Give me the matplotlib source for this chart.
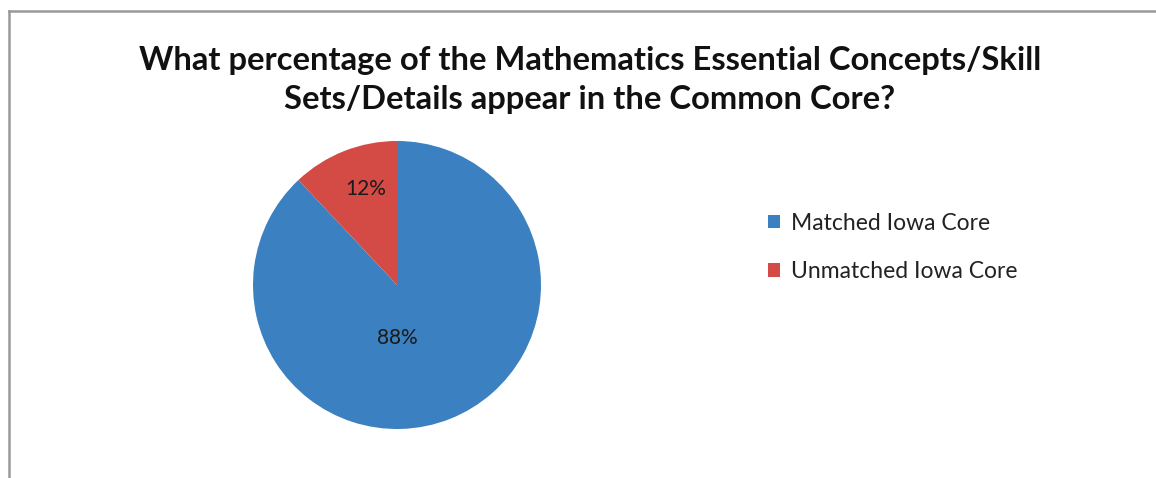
import matplotlib
matplotlib.use("Agg")
import matplotlib.pyplot as plt
from matplotlib.lines import Line2D

categories = ["Matched Iowa Core", "Unmatched Iowa Core"]
values = [88, 12]
colors = ["#3B80C0", "#D44B45"]
title = "What percentage of the Mathematics Essential Concepts/Skill\nSets/Details appear in the Common Core?"

W, H = 1156, 478
fig = plt.figure(figsize=(W / 100, H / 100), dpi=100)
fig.patch.set_facecolor("white")

# frame lines (top and left)
fig.add_artist(Line2D([9 / W, 1.0], [1 - 11 / H, 1 - 11 / H], color="#999999", lw=1.8))
fig.add_artist(Line2D([9 / W, 9 / W], [0, 1 - 11 / H], color="#999999", lw=1.8))

cx, cy, r = 397, 285, 144
ax = fig.add_axes([(cx - r) / W, (H - cy - r) / H, 2 * r / W, 2 * r / H])
wedges, texts, autotexts = ax.pie(values, colors=colors, startangle=90, counterclock=False,
                                  autopct=lambda p: f"{p:.0f}%", pctdistance=0.71,
                                  textprops=dict(family="Lato", fontsize=15, color="#1a1a1a"),
                                  wedgeprops=dict(linewidth=0))
autotexts[0].set_position((0.0, -0.37))
autotexts[1].set_position((-0.22, 0.67))
ax.set_xlim(-1, 1)
ax.set_ylim(-1, 1)
ax.set_aspect("equal")
ax.axis("off")

fig.text(590 / W, 1 - 80 / H, title, ha="center", va="center", family="Lato",
         fontweight="bold", fontsize=23.6, linespacing=1.45, color="#111111")

leg = fig.legend(wedges, categories, loc="upper left", bbox_to_anchor=(747 / W, 1 - 192 / H),
                 frameon=False, prop=dict(family="Lato", size=16.5), handlelength=0.55,
                 handleheight=0.55, handletextpad=0.45, labelspacing=1.2)
for t in leg.get_texts():
    t.set_color("#222222")

fig.savefig("out.png", dpi=100)
